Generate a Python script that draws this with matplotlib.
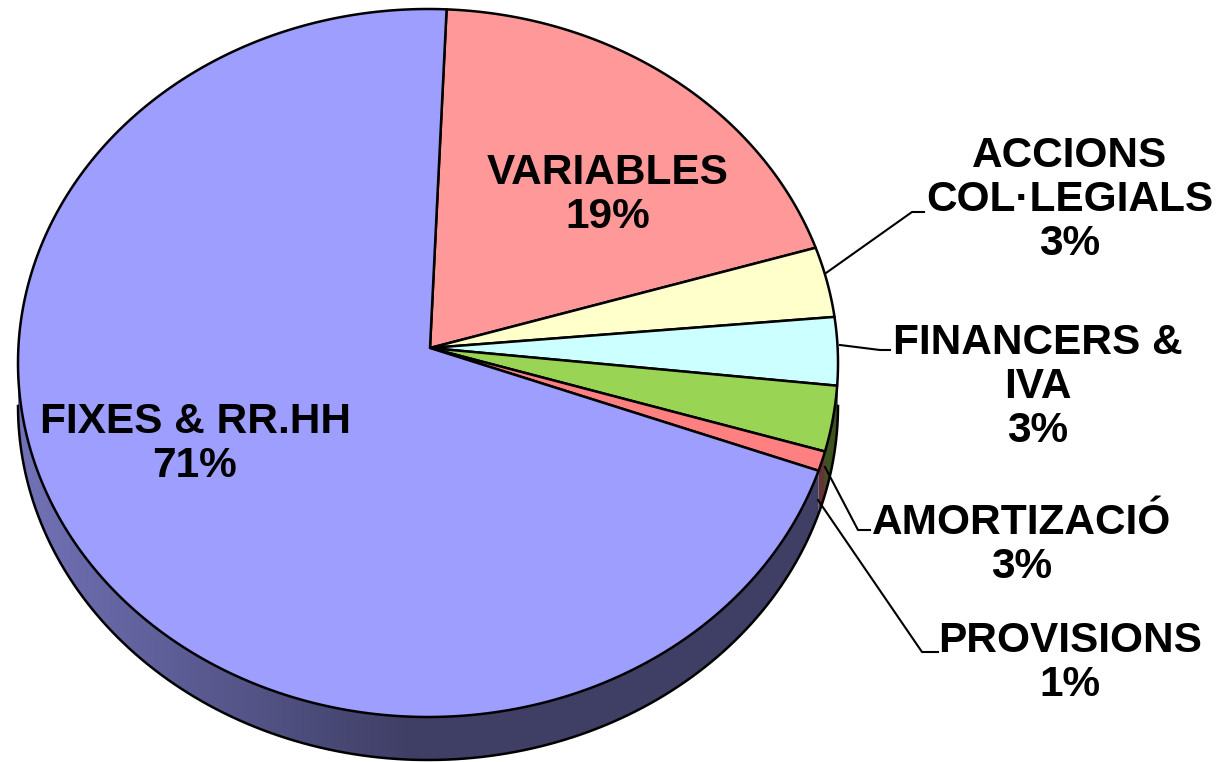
import numpy as np
import matplotlib
matplotlib.use("Agg")
import matplotlib.pyplot as plt
from matplotlib.patches import Polygon
from matplotlib.colors import to_rgb

categories = ["VARIABLES", "ACCIONS\nCOL·LEGIALS", "FINANCERS &\nIVA",
              "AMORTIZACIÓ", "PROVISIONS", "FIXES & RR.HH"]
values = [19.0, 3.2, 3.1, 3.0, 0.9, 70.8]
colors = ["#FF9999", "#FFFFCC", "#CCFFFF", "#99D455", "#FF8080", "#9E9EFF"]

# geometry (pixel units)
W, H = 1218, 762
cx, cy = 428, 363          # ellipse centre
rx, ry = 410, 354          # ellipse radii
ax_apex, ay_apex = 430, 348
depth = 43
start_angle = 87.4

fig = plt.figure(figsize=(W / 100, H / 100), dpi=100)
ax = fig.add_axes([0, 0, 1, 1])
ax.set_xlim(0, W)
ax.set_ylim(H, 0)
ax.axis("off")

def ept(t_deg, dy=0):
    t = np.radians(t_deg)
    return cx + rx * np.cos(t), cy - ry * np.sin(t) + dy

total = sum(values)
spans = [v / total * 360 for v in values]
bounds = []
a = start_angle
for s in spans:
    bounds.append((a, a - s))
    a -= s

# horizontal shading gradient for side walls
xs_img = np.arange(W) + 0.5
fac = 0.72 - 0.32 * np.clip((xs_img - (cx - rx)) / (rx * 0.95), 0, 1)

# side wall (front half, angles -180..0)
for (a0, a1), col in zip(bounds, colors):
    lo, hi = min(a0, a1), max(a0, a1)
    for off in (0, -360, 360):
        l, h_ = lo + off, hi + off
        l2, h2 = max(l, -180), min(h_, 0)
        if h2 <= l2:
            continue
        ts = np.linspace(l2, h2, max(3, int((h2 - l2) * 4)))
        top = [ept(t) for t in ts]
        bot = [ept(t, depth) for t in ts[::-1]]
        poly = Polygon(top + bot, closed=True, facecolor="none",
                       edgecolor="none", zorder=1)
        ax.add_patch(poly)
        rgb = np.array(to_rgb(col))
        img = np.ones((2, W, 3)) * rgb[None, None, :] * fac[None, :, None]
        im = ax.imshow(img, extent=(0, W, H, 0), aspect="auto",
                       interpolation="bilinear", zorder=1)
        im.set_clip_path(poly)

ax.set_xlim(0, W)
ax.set_ylim(H, 0)

# side outline
tb = np.linspace(-180, 0, 300)
bx, by = zip(*[ept(t, depth) for t in tb])
ax.plot(bx, by, color="black", lw=1.8, zorder=2)

# top face
for (a0, a1), col in zip(bounds, colors):
    ts = np.linspace(a0, a1, max(3, int(abs(a0 - a1) * 3)))
    pts = [(ax_apex, ay_apex)] + [ept(t) for t in ts]
    ax.add_patch(Polygon(pts, closed=True, facecolor=col, edgecolor="black",
                         lw=1.8, joinstyle="round", zorder=3))

# labels
pcts = [f"{round(v / total * 100):d}%" for v in values]
label_pos = [(608, 195), (1070, 200), (1038, 387), (1022, 545), (1070, 663), (195, 444)]
for cat, p, (x, y) in zip(categories, pcts, label_pos):
    ax.text(x, y, f"{cat}\n{p}", ha="center", va="center", fontsize=30.5,
            fontweight="bold", family="Liberation Sans", linespacing=1.12, zorder=5)

# leader lines
leaders = [
    [(826, 273), (912, 212), (924, 212)],
    [(840, 345), (880, 350), (890, 350)],
    [(825, 467), (858, 530), (870, 530)],
    [(818, 500), (922, 652), (938, 652)],
]
for ln in leaders:
    xs, ys = zip(*ln)
    ax.plot(xs, ys, color="black", lw=1.5, zorder=4)

fig.savefig("out.png", dpi=100)
